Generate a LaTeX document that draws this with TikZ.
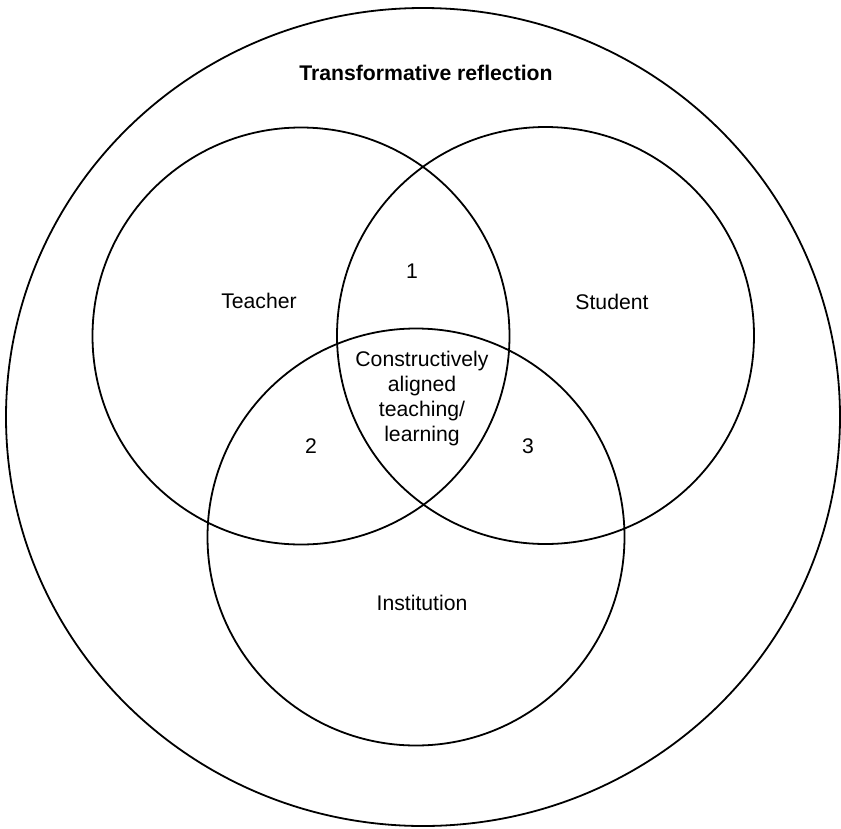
\documentclass[tikz,border=0pt]{standalone}
\usepackage{fontspec}
\setmainfont{Liberation Sans}
\usetikzlibrary{shapes.geometric}
\tikzset{
  ring/.style={draw, circle, line width=1.8pt, inner sep=0pt, minimum size=417pt},
  outerring/.style={draw, ellipse, line width=1.8pt, inner sep=0pt, minimum width=834pt, minimum height=818pt},
  lbl/.style={font=\fontsize{21.2}{25}\selectfont, inner sep=0pt, align=center},
  ttl/.style={font=\fontsize{21.2}{25}\selectfont\bfseries, inner sep=0pt}
}
\begin{document}
\begin{tikzpicture}[x=1pt,y=-1pt]
\useasboundingbox (0,0) rectangle (841,828);
\node[outerring] (outer) at (423,417) {};
\node[ring] (teacher) at (301,336) {};
\node[ring] (student) at (545.5,335.5) {};
\node[ring] (institution) at (416,537) {};
\node[ttl] (title) at (426,73) {Transformative reflection};
\node[lbl] (tlabel) at (259,301) {Teacher};
\node[lbl] (slabel) at (612,302) {Student};
\node[lbl] (ilabel) at (422,603) {Institution};
\node[lbl] (one) at (412,271) {1};
\node[lbl] (two) at (311,446) {2};
\node[lbl] (three) at (528,446) {3};
\node[lbl] (center) at (422,399) {Constructively\\aligned\\teaching/\\learning};
\end{tikzpicture}
\end{document}
